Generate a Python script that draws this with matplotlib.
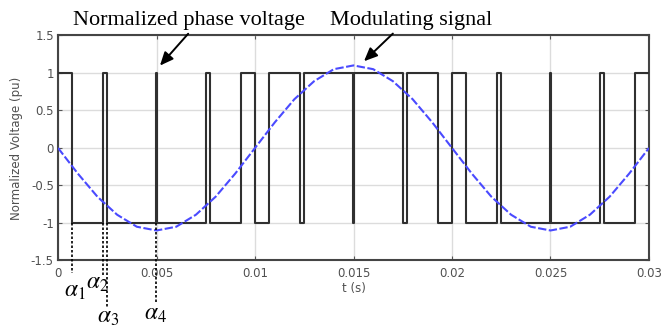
import matplotlib
matplotlib.use("Agg")
import matplotlib.pyplot as plt

plt.rcParams["mathtext.fontset"] = "stix"

# switching instants (s) of the phase voltage and the level held after each one
switch_times = [0.0, 0.0007, 0.0023, 0.0025, 0.00496, 0.00504, 0.0075, 0.0077, 0.0093,
                0.0100, 0.0107, 0.0123, 0.0125, 0.01496, 0.01504, 0.0175, 0.0177, 0.0193,
                0.0200, 0.0207, 0.0223, 0.0225, 0.02496, 0.02504, 0.0275, 0.0277, 0.0293,
                0.0300]
phase_levels = [1, -1, 1, -1, 1, -1, 1, -1, 1,
                -1, 1, -1, 1, -1, 1, -1, 1, -1,
                1, -1, 1, -1, 1, -1, 1, -1, 1,
                1]

# modulating signal, read every 1 ms
mod_t = [i / 1000 for i in range(31)]
mod_v = [0.0, -0.34, -0.65, -0.89, -1.05, -1.10, -1.05, -0.89, -0.65, -0.34,
         0.0, 0.34, 0.65, 0.89, 1.05, 1.10, 1.05, 0.89, 0.65, 0.34,
         0.0, -0.34, -0.65, -0.89, -1.05, -1.10, -1.05, -0.89, -0.65, -0.34, 0.0]

# switching angles marked below the axis
alpha_t = [0.0007, 0.0023, 0.0025, 0.00496]
alpha_labels = [r"$\alpha_1$", r"$\alpha_2$", r"$\alpha_3$", r"$\alpha_4$"]

x_ticks = [0, 0.005, 0.01, 0.015, 0.02, 0.025, 0.03]
x_ticklabels = ["0", "0.005", "0.01", "0.015", "0.02", "0.025", "0.03"]
y_ticks = [-1.5, -1, -0.5, 0, 0.5, 1, 1.5]
y_ticklabels = ["-1.5", "-1", "-0.5", "0", "0.5", "1", "1.5"]

fig = plt.figure(figsize=(6.67, 3.31), dpi=100)
ax = fig.add_axes([0.087, 0.213, 0.886, 0.68])

ax.step(switch_times, phase_levels, where="post", color="#303030", linewidth=1.5, zorder=3)
ax.plot(mod_t, mod_v, color="#4a4aff", linewidth=1.5, linestyle=(0, (4, 1.2)), zorder=4)

ax.set_xlim(0, 0.03)
ax.set_ylim(-1.5, 1.5)
ax.set_xticks(x_ticks)
ax.set_xticklabels(x_ticklabels)
ax.set_yticks(y_ticks)
ax.set_yticklabels(y_ticklabels)
ax.grid(True, color="#dcdcdc", linewidth=1.0)
ax.set_axisbelow(True)
ax.tick_params(direction="in", top=True, right=True, length=3, width=0.8,
               labelsize=8.5, labelcolor="#505050", color="#555555")
ax.tick_params(axis="x", pad=5)
ax.tick_params(axis="y", pad=3)
for s in ax.spines.values():
    s.set_color("#444444")
    s.set_linewidth(1.5)

ax.set_xlabel("t (s)", fontsize=8.5, color="#505050", labelpad=1)
ax.set_ylabel("Normalized Voltage (pu)", fontsize=8.5, color="#505050", labelpad=6)

# dashed markers and labels for the switching angles
dash_bottom = [-1.67, -1.69, -2.12, -2.07]
label_offsets = [(-8, -30), (-17, -22), (-10, -56), (-12, -53)]
for t, lab, yb, off in zip(alpha_t, alpha_labels, dash_bottom, label_offsets):
    ax.plot([t, t], [-1, yb], color="black", linewidth=1.2, linestyle=(0, (1.5, 1.2)),
            clip_on=False, zorder=5)
    ax.annotate(lab, xy=(t, -1.5), xycoords="data", xytext=off, textcoords="offset pixels",
                fontsize=17, ha="left", va="center", annotation_clip=False)

serif = ["Liberation Serif", "DejaVu Serif"]
fig.text(73 / 667, 1 - 20 / 331, "Normalized phase voltage", family=serif, fontsize=16,
         ha="left", va="center")
fig.text(330 / 667, 1 - 20 / 331, "Modulating signal", family=serif, fontsize=16,
         ha="left", va="center")

arrow = dict(arrowstyle="-|>,head_length=0.8,head_width=0.35", color="black", linewidth=1.4)
ax.annotate("", xy=(0.00508, 1.07), xytext=(0.0067, 1.55), arrowprops=arrow,
            annotation_clip=False)
ax.annotate("", xy=(0.01543, 1.13), xytext=(0.0171, 1.55), arrowprops=arrow,
            annotation_clip=False)

fig.savefig("out.png", dpi=100)
